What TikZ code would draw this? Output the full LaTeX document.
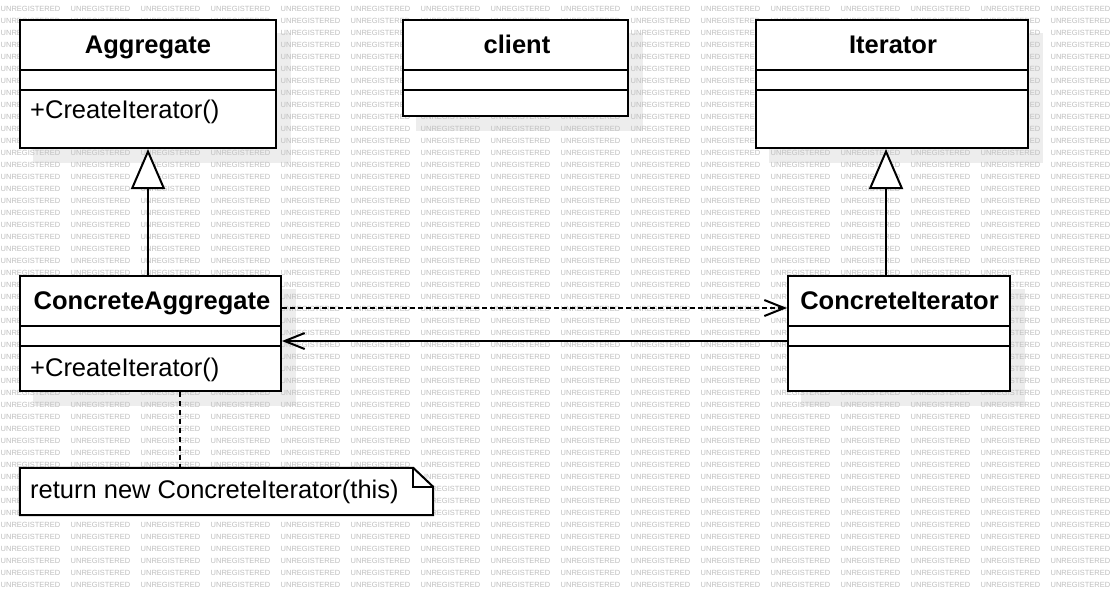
\documentclass[tikz,border=0pt]{standalone}
\usepackage{fontspec}
\setmainfont{Liberation Sans}
\usetikzlibrary{arrows.meta,calc}
\pgfdeclarelayer{shade}
\pgfdeclarelayer{mark}
\pgfsetlayers{shade,mark,main}

% one row of the repeated background stamp
\newcommand\wmword{\makebox[70pt][l]{UNREGISTERED}}
\newcommand\wmrow{\wmword\wmword\wmword\wmword\wmword\wmword\wmword\wmword%
\wmword\wmword\wmword\wmword\wmword\wmword\wmword UNREGISTERED}

\tikzset{
  classbox/.style={draw, line width=2pt, fill=white, inner sep=0pt},
  divider/.style={line width=2pt},
  shadowfill/.style={fill=black!7},
  wm/.style={font=\fontsize{7.5}{9}\selectfont, text=black!25, inner sep=0pt, anchor=base west},
  title/.style={font=\fontsize{25.5}{30}\selectfont\bfseries, inner sep=0pt, anchor=base},
  member/.style={font=\fontsize{25.5}{30}\selectfont, inner sep=0pt, anchor=base west},
  gen/.style={line width=2pt, -{Triangle[length=40pt,width=34pt,fill=white,line join=miter]}},
  dep/.style={line width=2pt, dash pattern=on 5pt off 3pt, -{Straight Barb[length=20pt,width=16pt]}},
  assoc/.style={line width=2pt, -{Straight Barb[length=20pt,width=16pt]}},
  notelink/.style={line width=2pt, dash pattern=on 5pt off 4pt},
}

\begin{document}
\begin{tikzpicture}[x=1pt,y=-1pt]
\useasboundingbox (0,0) rectangle (1110,598);
\begin{pgfonlayer}{shade}
  \fill[white] (0,0) rectangle (1110,598);
\end{pgfonlayer}

% background stamp
\begin{pgfonlayer}{mark}
  \begin{scope}
    \clip (0,0) rectangle (1110,598);
    \foreach \r in {0,...,48}
      \node[wm] (wm\r) at (0.5,{11+12*\r}) {\wmrow};
  \end{scope}
\end{pgfonlayer}

% class boxes
\node[classbox, minimum width=256, minimum height=128] (agg)    at (148,84)    {};
\node[classbox, minimum width=225, minimum height=96]  (client) at (515.5,68)  {};
\node[classbox, minimum width=272, minimum height=128] (iter)   at (892,84)    {};
\node[classbox, minimum width=261, minimum height=115] (cagg)   at (150.5,333.5) {};
\node[classbox, minimum width=222, minimum height=115] (citer)  at (899,333.5) {};

% compartment dividers
\foreach \n in {agg,client,iter} {
  \draw[divider] (\n.west |- 0,70) -- (\n.east |- 0,70);
  \draw[divider] (\n.west |- 0,90) -- (\n.east |- 0,90);
}
\foreach \n in {cagg,citer} {
  \draw[divider] (\n.west |- 0,325.5) -- (\n.east |- 0,325.5);
  \draw[divider] (\n.west |- 0,346) -- (\n.east |- 0,346);
}

% drop shadows
\begin{pgfonlayer}{shade}
  \foreach \n in {agg,client,iter,cagg,citer}
    \fill[shadowfill] ($(\n.north west)+(14,14)$) rectangle ($(\n.south east)+(14,14)$);
\end{pgfonlayer}

% names and operations
\node[title] (aggname)    at (148,53)   {Aggregate};
\node[member] (aggop)     at (30,118)   {+CreateIterator()};
\node[title] (clientname) at (517,53)   {client};
\node[title] (itername)   at (893,53)   {Iterator};
\node[title] (caggname)   at (152,309)  {ConcreteAggregate};
\node[member] (caggop)    at (30,376)   {+CreateIterator()};
\node[title] (citername)  at (899.5,309) {ConcreteIterator};

% note
\node[inner sep=0pt, minimum width=413, minimum height=47] (note) at (226.5,491.5) {};
\draw[line width=2pt, fill=white, line join=miter]
  (note.north west) -- ($(note.north east)+(-20,0)$) -- ($(note.north east)+(0,19)$)
  -- (note.south east) -- (note.south west) -- cycle;
\draw[line width=2pt, line join=miter]
  ($(note.north east)+(-20,0)$) -- ($(note.north east)+(-20,19)$) -- ($(note.north east)+(0,19)$);
\node[member] (notetext) at (30,498) {return new ConcreteIterator(this)};

% connectors
\draw[gen] (cagg.north -| agg.south) -- (agg.south);
\draw[gen] (citer.north -| 886,0) -- (iter.south -| 886,0);
\draw[dep] (cagg.east |- 0,308) -- (citer.west |- 0,308);
\draw[assoc] (citer.west |- 0,341) -- (cagg.east |- 0,341);
\draw[notelink] (cagg.south -| 180,0) -- (note.north -| 180,0);
\end{tikzpicture}
\end{document}
